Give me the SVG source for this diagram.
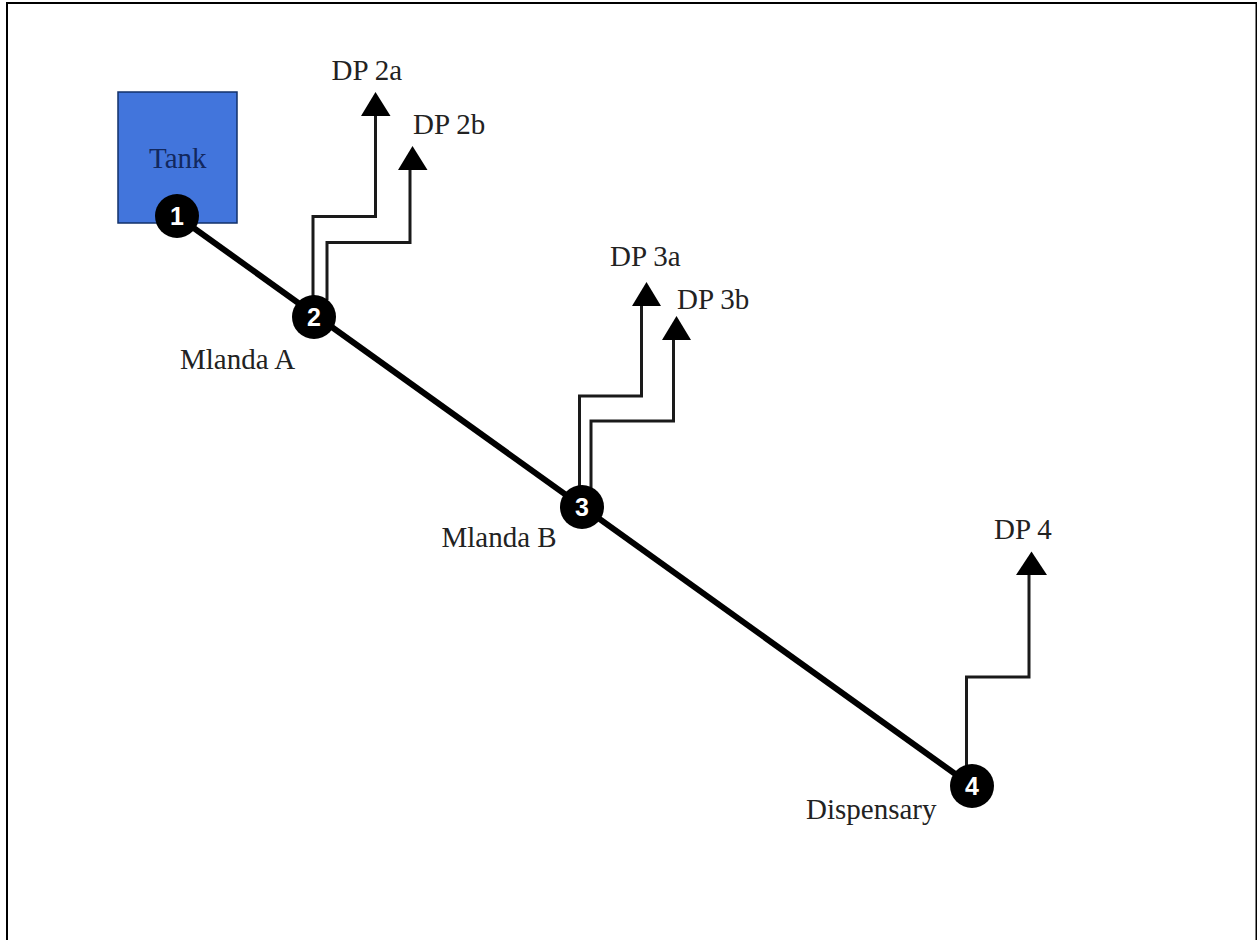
<svg xmlns="http://www.w3.org/2000/svg" width="1257" height="940" viewBox="0 0 1257 940">
<style>
.lbl{font-family:"Liberation Serif","Times New Roman",serif;font-size:29px;fill:#222}
.num{font-family:"Liberation Sans",Arial,sans-serif;font-size:25px;font-weight:bold;fill:#fff;text-anchor:middle}
.pipe{fill:none;stroke:#1a1a1a;stroke-width:3}
.head{fill:#000}
.dot{fill:#000}
</style>
<rect width="1257" height="940" fill="#fff"/>
<path d="M7 940V3H1256.500V940" fill="none" stroke="#000" stroke-width="2"/>
<g id="tank">
<rect x="118" y="92" width="119" height="131" fill="#4275dc" stroke="#12306a" stroke-width="1.500"/>
<text class="lbl" x="149" y="168" style="fill:#12285e">Tank</text>
</g>
<g id="connectors">
<path d="M177 216L972 786" fill="none" stroke="#000" stroke-width="6"/>
<path class="pipe" d="M313 300V216.500H375.500V112"/>
<polygon class="head" points="375.500,92 361,116 390.500,116"/>
<path class="pipe" d="M327 300V242.500H410V166"/>
<polygon class="head" points="412.500,146 398,170 427.500,170"/>
<path class="pipe" d="M579.500 490V396H641.500V302"/>
<polygon class="head" points="646.500,282 632,306 661,306"/>
<path class="pipe" d="M591 490V421H673.500V336"/>
<polygon class="head" points="676.500,316 662,340 691,340"/>
<path class="pipe" d="M966.500 770V677H1029V571"/>
<polygon class="head" points="1031.500,551.500 1016,575 1047,575"/>
</g>
<g id="node1"><circle class="dot" cx="177" cy="216" r="22"/><text class="num" x="177" y="225">1</text></g>
<g id="node2"><circle class="dot" cx="314" cy="317" r="22"/><text class="num" x="314" y="326">2</text></g>
<g id="node3"><circle class="dot" cx="582" cy="507" r="22"/><text class="num" x="582" y="516">3</text></g>
<g id="node4"><circle class="dot" cx="972" cy="786" r="22"/><text class="num" x="972" y="795">4</text></g>
<g id="label-mlanda-a"><text class="lbl" x="180" y="369">Mlanda A</text></g>
<g id="label-mlanda-b"><text class="lbl" x="441.500" y="547">Mlanda B</text></g>
<g id="label-dispensary"><text class="lbl" x="806" y="819">Dispensary</text></g>
<g id="dp2a"><text class="lbl" x="331.500" y="80">DP 2a</text></g>
<g id="dp2b"><text class="lbl" x="413" y="134">DP 2b</text></g>
<g id="dp3a"><text class="lbl" x="610" y="266">DP 3a</text></g>
<g id="dp3b"><text class="lbl" x="677" y="309">DP 3b</text></g>
<g id="dp4"><text class="lbl" x="994" y="539">DP 4</text></g>
</svg>
